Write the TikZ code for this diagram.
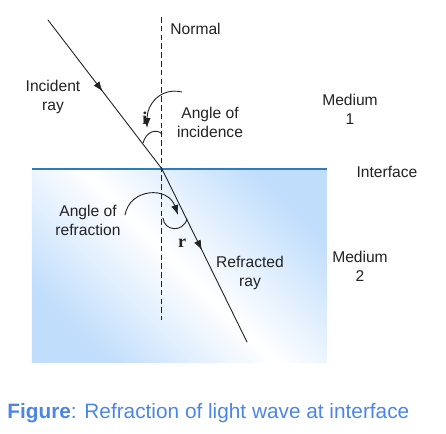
\documentclass[tikz,border=0pt]{standalone}
\usepackage{fontspec}
\setmainfont{Liberation Sans}
\newfontfamily\anglefont{Liberation Serif}
\usetikzlibrary{arrows.meta,decorations.markings}
\definecolor{lineblue}{RGB}{43,123,189}
\definecolor{capblue}{RGB}{74,134,232}
\definecolor{mediumblue}{RGB}{192,221,252}
\definecolor{txt}{RGB}{34,34,34}
\begin{document}
\begin{tikzpicture}[x=.5pt, y=-.5pt, font=\fontsize{7.8}{9.5}\selectfont, text=txt, line join=round, line cap=round,>={Latex[length=5pt,width=3.6pt]},
	ray/.style={draw=txt, line width=.45pt, postaction={decorate},
		decoration={markings, mark=at position #1 with {\arrow{>}}}},
	lbl/.style={align=center, inner sep=0pt},
	anglbl/.style={inner sep=0pt, font=\anglefont\bfseries\fontsize{9}{10}\selectfont}]
	\useasboundingbox (0,0) rectangle (446,434);
	% medium 2 and interface
	\shade[top color=mediumblue, bottom color=mediumblue, middle color=white, shading angle=-45] (32,169) rectangle (327,362);
	\draw[lineblue, line width=1.1pt, line cap=butt] (32,169) -- (327,169);
	% normal and rays
	\coordinate (O) at (162,169);
	\coordinate (ntop) at (162,17); \coordinate (nbot) at (162,320);
	\coordinate (S) at (48,20); \coordinate (E) at (247,342);
	\draw[txt, line width=.5pt, dash pattern=on 2.8pt off 1.6pt, line cap=butt] (ntop) -- (nbot);
	\draw[ray=.48] (S) -- (O);
	\draw[ray=.47] (O) -- (E);
	% angle marks
	\draw[txt, line width=.45pt] (143,143) .. controls (146,132) and (156,128) .. (162,134);
	\draw[txt, line width=.45pt] (163,218) .. controls (164,231) and (183,233) .. (187,219);
	\node[anglbl] (i) at (145,118) {i};
	\node[anglbl] (r) at (182,243) {r};
	% labels
	\node[anchor=west, inner sep=0pt] (normal) at (170,29) {Normal};
	\node[lbl] (incray) at (53,97) {Incident\\ray};
	\node[lbl] (aoi) at (210,122) {Angle of\\incidence};
	\node[lbl] (m1) at (350,109) {Medium\\1};
	\node[lbl] (iface) at (387,172) {Interface};
	\node[lbl] (aor) at (88,220) {Angle of\\refraction};
	\node[lbl] (refray) at (250,273) {Refracted\\ray};
	\node[lbl] (m2) at (360,266) {Medium\\2};
	% pointers
	\coordinate (ip) at (182,92); \coordinate (it) at (147,128);
	\coordinate (rp) at (125,215); \coordinate (rt) at (178,215);
	\draw[->, txt, line width=.45pt] (ip) .. controls (160,87) and (147,105) .. (it);
	\draw[->, txt, line width=.45pt] (rp) .. controls (130,188) and (168,186) .. (rt);
	\node[anchor=west, inner sep=0pt, text=capblue, font=\fontsize{10.4}{12}\selectfont] (cap) at (7,413) {\textbf{Figure}: Refraction of light wave at interface};
\end{tikzpicture}
\end{document}
